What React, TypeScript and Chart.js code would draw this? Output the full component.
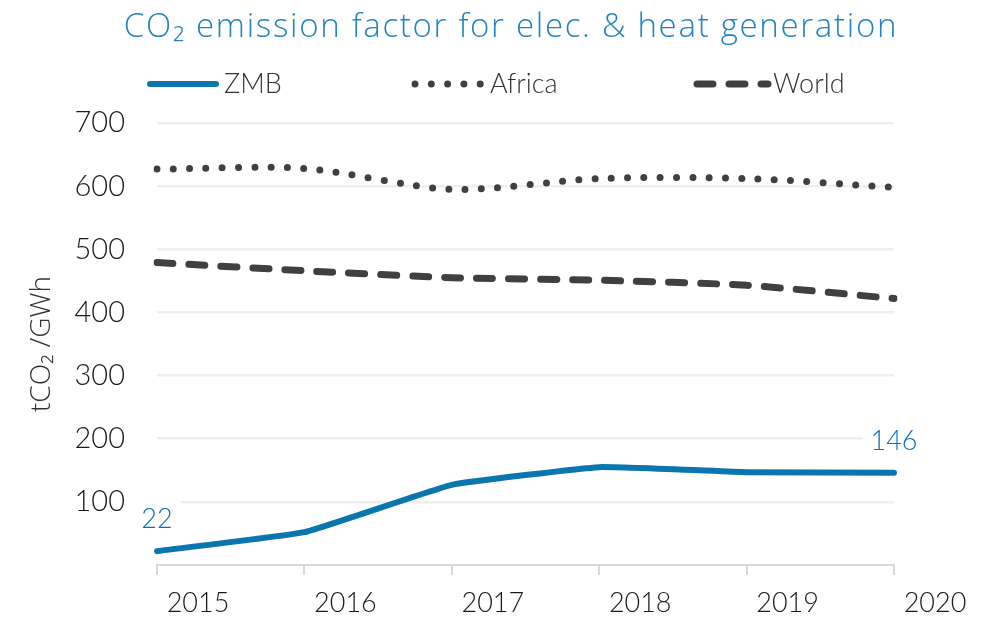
import React, { useEffect, useRef } from 'react';
import { Chart, registerables } from 'chart.js';

Chart.register(...registerables);

const years = ['2015', '2016', '2017', '2018', '2019', '2020'];
const zmbValues = [22, 52, 127, 155, 147, 146];
const africaValues = [627, 628, 595, 612, 612, 598];
const worldValues = [479, 466, 455, 451, 443, 422];
const seriesNames = ['ZMB', 'Africa', 'World'];
const labelledPoints = [0, 5];
const titleText = 'CO\u2082 emission factor for elec. & heat generation';
const yAxisTitle = 'tCO\u2082 /GWh';

const FONT = 'Lato, "Open Sans", sans-serif';
const TITLE_FONT = '"Open Sans", Lato, sans-serif';
const BLUE = '#0a76ad';
const LABEL_BLUE = '#0a70bd';
const TITLE_BLUE = '#2484c1';
const GREY = '#404040';

const titlePlugin = {
  id: 'customTitle',
  afterDraw(chart: any) {
    const { ctx } = chart;
    ctx.save();
    ctx.font = `300 33px ${TITLE_FONT}`;
    try {
      (ctx as any).letterSpacing = '1.7px';
    } catch (e) {
      /* ignore */
    }
    ctx.fillStyle = TITLE_BLUE;
    ctx.textAlign = 'center';
    ctx.textBaseline = 'middle';
    ctx.fillText(titleText, 511, 28);
    ctx.restore();
  },
};

const legendPlugin = {
  id: 'customLegend',
  afterDraw(chart: any) {
    const { ctx } = chart;
    const y = 84;
    const items = [
      { ds: 0, x0: 150, x1: 216, tx: 224 },
      { ds: 1, x0: 415, x1: 482, tx: 490 },
      { ds: 2, x0: 697, x1: 768, tx: 773 },
    ];
    ctx.save();
    items.forEach((it) => {
      const ds = chart.data.datasets[it.ds];
      ctx.beginPath();
      ctx.strokeStyle = ds.borderColor;
      ctx.lineWidth = ds.borderWidth;
      ctx.lineCap = ds.borderCapStyle || 'butt';
      ctx.setLineDash(ds.borderDash || []);
      ctx.moveTo(it.x0, y);
      ctx.lineTo(it.x1, y);
      ctx.stroke();
      ctx.setLineDash([]);
      ctx.fillStyle = '#333333';
      ctx.font = `300 27px ${FONT}`;
      ctx.textAlign = 'left';
      ctx.textBaseline = 'middle';
      ctx.fillText(ds.label, it.tx, y);
    });
    ctx.restore();
  },
};

const pointLabelPlugin = {
  id: 'pointLabels',
  afterDatasetsDraw(chart: any) {
    const { ctx } = chart;
    const meta = chart.getDatasetMeta(0);
    ctx.save();
    ctx.font = `300 27px ${FONT}`;
    ctx.textAlign = 'center';
    ctx.textBaseline = 'middle';
    labelledPoints.forEach((i) => {
      const pt = meta.data[i];
      const text = String(zmbValues[i]);
      const tx = pt.x;
      const ty = pt.y - 32;
      const w = ctx.measureText(text).width;
      ctx.fillStyle = '#ffffff';
      ctx.fillRect(tx - w / 2 - 8, ty - 18, w + 16, 34);
      ctx.fillStyle = LABEL_BLUE;
      ctx.fillText(text, tx, ty);
    });
    ctx.restore();
  },
};

export default function App() {
  const ref = useRef<HTMLCanvasElement | null>(null);

  useEffect(() => {
    if (!ref.current) return;
    const chart = new Chart(ref.current, {
      type: 'line',
      data: {
        labels: years,
        datasets: [
          {
            label: seriesNames[0],
            data: zmbValues,
            borderColor: BLUE,
            borderWidth: 6,
            borderCapStyle: 'round',
            borderJoinStyle: 'round',
            pointRadius: 0,
            tension: 0.1,
          },
          {
            label: seriesNames[1],
            data: africaValues,
            borderColor: GREY,
            borderWidth: 7,
            borderCapStyle: 'round',
            borderDash: [0, 16.3],
            pointRadius: 0,
            tension: 0.3,
          },
          {
            label: seriesNames[2],
            data: worldValues,
            borderColor: GREY,
            borderWidth: 7,
            borderCapStyle: 'round',
            borderDash: [16, 16],
            pointRadius: 0,
            tension: 0.2,
          },
        ],
      },
      options: {
        animation: false,
        responsive: true,
        maintainAspectRatio: false,
        layout: { padding: { left: 0, right: 102, top: 123, bottom: 0 } },
        plugins: {
          legend: { display: false },
          tooltip: { enabled: false },
          title: { display: false },
        },
        scales: {
          x: {
            offset: false,
            afterFit: (s: any) => {
              s.height = 56;
            },
            grid: {
              display: true,
              drawOnChartArea: false,
              drawTicks: true,
              tickLength: 10,
              color: '#d9d9d9',
              lineWidth: 2,
            },
            border: { display: true, color: '#d9d9d9', width: 2 },
            ticks: {
              color: '#1a1a1a',
              font: { family: FONT, size: 27, weight: '300' },
              labelOffset: 41,
              padding: 12,
              maxRotation: 0,
              autoSkip: false,
            },
          },
          y: {
            min: 0,
            max: 700,
            afterFit: (s: any) => {
              s.width = 157;
            },
            grid: {
              drawTicks: true,
              tickLength: 29,
              tickColor: 'rgba(0,0,0,0)',
              lineWidth: 2.5,
              color: (c: any) => (c.tick && c.tick.value === 0 ? 'rgba(0,0,0,0)' : '#eeeeee'),
            },
            border: { display: false },
            ticks: {
              stepSize: 100,
              color: '#1a1a1a',
              font: { family: FONT, size: 29, weight: '300' },
              padding: 3,
              callback: (v: any) => (v === 0 ? '' : String(v)),
            },
            title: {
              display: true,
              text: yAxisTitle,
              color: '#333333',
              font: { family: TITLE_FONT, size: 28, weight: '300' },
              padding: { top: 25, bottom: 0 },
            },
          },
        },
      },
      plugins: [titlePlugin, legendPlugin, pointLabelPlugin],
    } as any);
    return () => chart.destroy();
  }, []);

  return (
    <div style={{ position: 'fixed', left: 0, top: 0, width: 996, height: 621, background: '#fff' }}>
      <canvas ref={ref} />
    </div>
  );
}
